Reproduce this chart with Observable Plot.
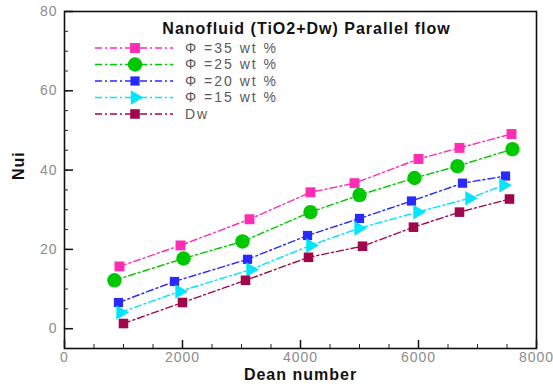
<!DOCTYPE html>
<html><head><meta charset="utf-8">
<script src="https://cdn.jsdelivr.net/npm/d3@7"></script>
<script src="https://cdn.jsdelivr.net/npm/@observablehq/plot@0.6"></script>
<style>body{margin:0;background:#fff}#chart{width:553px;height:392px}</style>
</head><body><div id="chart"></div>
<script>
// Data
const seriesNames = ["Φ =35 wt %", "Φ =25 wt %", "Φ =20 wt %", "Φ =15 wt %", "Dw"];
const dean35 = [932, 1966, 3136, 4169, 4915, 6000, 6695, 7576];
const nu35   = [15.7, 21.0, 27.6, 34.4, 36.7, 42.8, 45.6, 49.1];
const dean25 = [847, 2017, 3017, 4169, 5000, 5932, 6661, 7593];
const nu25   = [12.2, 17.7, 22.0, 29.4, 33.7, 38.0, 41.0, 45.3];
const dean20 = [915, 1864, 3102, 4119, 5000, 5881, 6746, 7475];
const nu20   = [6.6, 11.9, 17.5, 23.5, 27.8, 32.2, 36.7, 38.5];
const dean15 = [949, 1949, 3153, 4169, 4983, 5983, 6864, 7441];
const nu15   = [4.1, 9.4, 14.9, 21.0, 25.3, 29.4, 32.9, 36.2];
const deanDw = [1000, 2000, 3068, 4136, 5051, 5915, 6695, 7542];
const nuDw   = [1.3, 6.6, 12.2, 18.0, 20.8, 25.6, 29.4, 32.7];
const xTicks = [0, 2000, 4000, 6000, 8000];
const yTicks = [0, 20, 40, 60, 80];
const titleText = "Nanofluid (TiO2+Dw) Parallel flow";
const xLabel = "Dean number";
const yLabel = "Nui";

const colors = ["#ff2db4", "#00c800", "#2a2aff", "#00e6ff", "#a0064c"];
const symbols = ["square", "circle", "square", "triangle", "square"];
const radii = [5.6, 7.2, 5.2, 5.4, 5.4];
const rotations = [0, 0, 0, 90, 0];
const dash = "7,3,2,3";
const font = "'Liberation Sans', Arial, sans-serif";

const xs = [dean35, dean25, dean20, dean15, deanDw];
const ys = [nu35, nu25, nu20, nu15, nuDw];
const rows = seriesNames.map((s, i) => xs[i].map((x, j) => ({series: s, x, y: ys[i][j]})));

const xMinor = d3.range(0, 8001, 500);
const yMinor = d3.range(0, 81, 5);

const marks = [
  Plot.frame({stroke: "#111", strokeWidth: 1.6}),
  Plot.axisX({ticks: xMinor, tickSize: -4, tickFormat: () => "", label: null, stroke: "#222"}),
  Plot.axisX({ticks: xTicks, tickSize: -8, tickFormat: () => "", label: null, stroke: "#111", strokeWidth: 1.5}),
  Plot.axisX({ticks: xTicks, tickSize: 0, tickPadding: 4, tickFormat: d3.format("d"), label: null, fill: "#8c8c8c", fontSize: 14}),
  Plot.axisY({ticks: yMinor, tickSize: -4, tickFormat: () => "", label: null, stroke: "#222"}),
  Plot.axisY({ticks: yTicks, tickSize: -9, tickFormat: () => "", label: null, stroke: "#111", strokeWidth: 1.5}),
  Plot.axisY({ticks: yTicks, tickSize: 0, tickPadding: 7, label: null, fill: "#8c8c8c", fontSize: 14}),
  Plot.text([titleText], {text: d => d, frameAnchor: "top", dy: 11, dx: 6, fontSize: 16, fontWeight: "bold", fill: "#111"}),
  Plot.text([xLabel], {text: d => d, frameAnchor: "bottom", dy: 31, fontSize: 16, fontWeight: "bold", fill: "#111"}),
  Plot.text([yLabel], {text: d => d, frameAnchor: "left", dx: -46, rotate: -90, fontSize: 16, fontWeight: "bold", fill: "#111"})
];
rows.forEach((r, i) => {
  marks.push(Plot.line(r, {x: "x", y: "y", stroke: colors[i], strokeWidth: 1.4, strokeDasharray: dash}));
  marks.push(Plot.dot(r, {x: "x", y: "y", symbol: symbols[i], r: radii[i], fill: colors[i], stroke: "none", rotate: rotations[i]}));
});

const plot = Plot.plot({
  width: 553, height: 392,
  marginLeft: 64, marginRight: 17, marginTop: 11, marginBottom: 44,
  x: {domain: [0, 8000], label: null},
  y: {domain: [-5, 80], label: null},
  style: {fontFamily: font, background: "white", overflow: "visible"},
  marks
});
document.getElementById("chart").appendChild(plot);

// wider lettering like the reference
d3.select(plot).selectAll("text").attr("letter-spacing", 1);

// Legend inside the frame
const svg = d3.select(plot);
const lg = svg.append("g").attr("font-family", font).attr("text-anchor", "start");
const symMap = {square: d3.symbolSquare, circle: d3.symbolCircle, triangle: d3.symbolTriangle};
seriesNames.forEach((name, i) => {
  const y = 48 + i * 16.5;
  lg.append("line").attr("x1", 95).attr("x2", 173).attr("y1", y).attr("y2", y)
    .attr("stroke", colors[i]).attr("stroke-width", 1.4).attr("stroke-dasharray", dash);
  const r = radii[i];
  lg.append("path").attr("d", d3.symbol(symMap[symbols[i]], Math.PI * r * r)())
    .attr("transform", `translate(135,${y}) rotate(${rotations[i]})`).attr("fill", colors[i]);
  lg.append("text").attr("x", 185).attr("y", y).attr("dy", "0.35em")
    .attr("font-size", 14).attr("letter-spacing", 2).attr("fill", "#5a5a5a").text(name);
});
</script>
</body></html>
